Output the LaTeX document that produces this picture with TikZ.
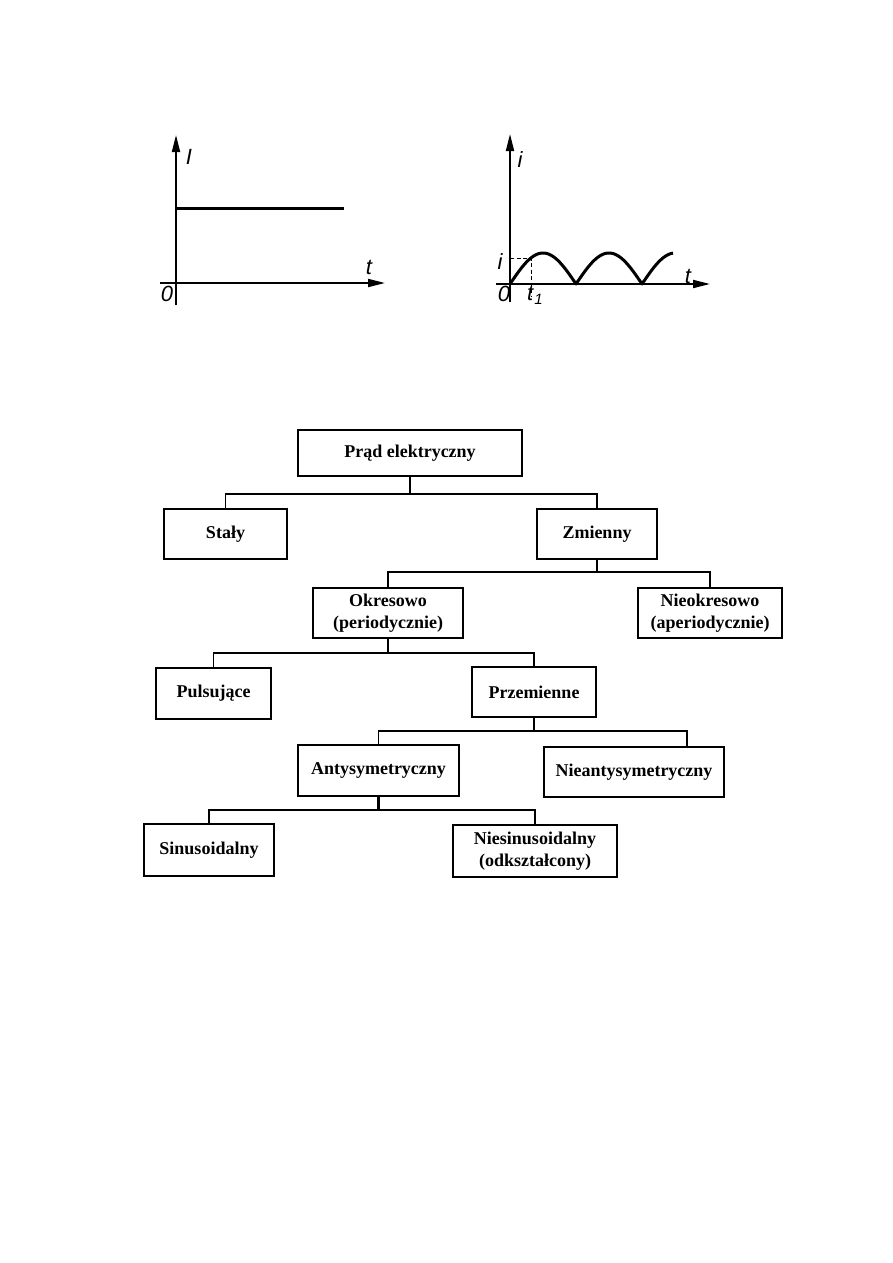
\documentclass[tikz,border=0pt]{standalone}
\usepackage{fontspec}
\setmainfont{Liberation Serif}
\newfontfamily\axisfont{Liberation Sans}
\usetikzlibrary{arrows.meta}
\tikzset{
  box/.style={draw, line width=1.5pt, inner sep=0pt, align=center,
    font=\bfseries\fontsize{18}{22}\selectfont},
  conn/.style={line width=1.4pt},
  axis/.style={line width=1.8pt, -{Triangle[length=17pt,width=8pt]}},
  curve/.style={line width=3pt},
  helper/.style={line width=0.8pt, dash pattern=on 4pt off 2.5pt},
  lbl/.style={inner sep=0pt, font=\axisfont\itshape\fontsize{22}{24}\selectfont}
}
\begin{document}
\begin{tikzpicture}[x=1pt,y=-1pt]
\useasboundingbox (0,0) rectangle (893,1263);

% ---------- graph 1 ----------
\coordinate (y1s) at (176,305);
\coordinate (y1e) at (176,135);
\coordinate (x1s) at (160,283);
\coordinate (x1e) at (385,283);
\coordinate (c1s) at (176,208);
\coordinate (c1e) at (344,208);
\draw[axis] (y1s) -- (y1e);
\draw[axis] (x1s) -- (x1e);
\draw[curve] (c1s) -- (c1e);
\node[lbl] (lI) at (189,157) {I};
\node[lbl] (lt1) at (369,267) {t};
\node[lbl] (l01) at (167,294) {0};

% ---------- graph 2 ----------
\coordinate (y2s) at (510,302);
\coordinate (y2e) at (510,134);
\coordinate (x2s) at (496,284);
\coordinate (x2e) at (710,284);
\draw[axis] (y2s) -- (y2e);
\draw[axis] (x2s) -- (x2e);
\draw[curve, line join=round] plot[domain=0:163, samples=164] ({510+\x},{284-31*abs(sin(\x/66*180))});
\coordinate (dh) at (510,258);
\coordinate (dc) at (531,258);
\coordinate (dv) at (531,297);
\draw[helper] (dh) -- (dc) -- (dv);
\node[lbl] (li1) at (520,160) {i};
\node[lbl] (li2) at (500,262) {i};
\node[lbl] (lt2) at (688,276) {t};
\node[lbl] (l02) at (504,294) {0};
\node[lbl, anchor=west] (lt3) at (527,295) {t\kern1pt\raisebox{-4pt}{\fontsize{15}{16}\selectfont 1}};

% ---------- tree ----------
\node[box, minimum width=224pt, minimum height=46pt] (prad) at (410,453) {Prąd elektryczny};
\node[box, minimum width=123pt, minimum height=50pt] (staly) at (225.5,534) {Stały};
\node[box, minimum width=120pt, minimum height=50pt] (zmienny) at (597,534) {Zmienny};
\node[box, minimum width=150pt, minimum height=50pt] (okres) at (388,613) {Okresowo\\(periodycznie)};
\node[box, minimum width=144pt, minimum height=50pt] (nieokres) at (710,613) {Nieokresowo\\(aperiodycznie)};
\node[box, minimum width=115pt, minimum height=51pt] (puls) at (213.5,693.5) {Pulsujące};
\node[box, minimum width=124pt, minimum height=50pt] (przem) at (534,692) {Przemienne};
\node[box, line width=2.4pt, minimum width=161pt, minimum height=51pt] (anty) at (378.5,770.5) {Antysymetryczny};
\node[box, minimum width=180pt, minimum height=50pt] (nieanty) at (634,772) {Nieantysymetryczny};
\node[box, minimum width=130pt, minimum height=52pt] (sinus) at (209,850) {Sinusoidalny};
\node[box, minimum width=164pt, minimum height=52pt] (niesinus) at (535,851) {Niesinusoidalny\\(odkształcony)};

% connectors
\coordinate (b1) at (410,494);
\draw[conn] (prad.south) -- (b1);
\draw[conn] (staly.north) |- (b1) -| (zmienny.north);

\coordinate (b2) at (597,572);
\draw[conn] (zmienny.south) -- (b2);
\draw[conn] (okres.north) |- (b2) -| (nieokres.north);

\coordinate (b3) at (388,653);
\draw[conn] (okres.south) -- (b3);
\draw[conn] (puls.north) |- (b3) -| (przem.north);

\coordinate (b4) at (534,731);
\coordinate (b4r) at (687,731);
\draw[conn] (przem.south) -- (b4);
\draw[conn] (anty.north) |- (b4) -- (b4r) -- (b4r |- nieanty.north);

\coordinate (b5) at (378.5,810);
\draw[conn, line width=2.2pt] (anty.south) -- (b5);
\draw[conn, line width=2.2pt] (sinus.north) |- (b5) -| (niesinus.north);
\end{tikzpicture}
\end{document}
